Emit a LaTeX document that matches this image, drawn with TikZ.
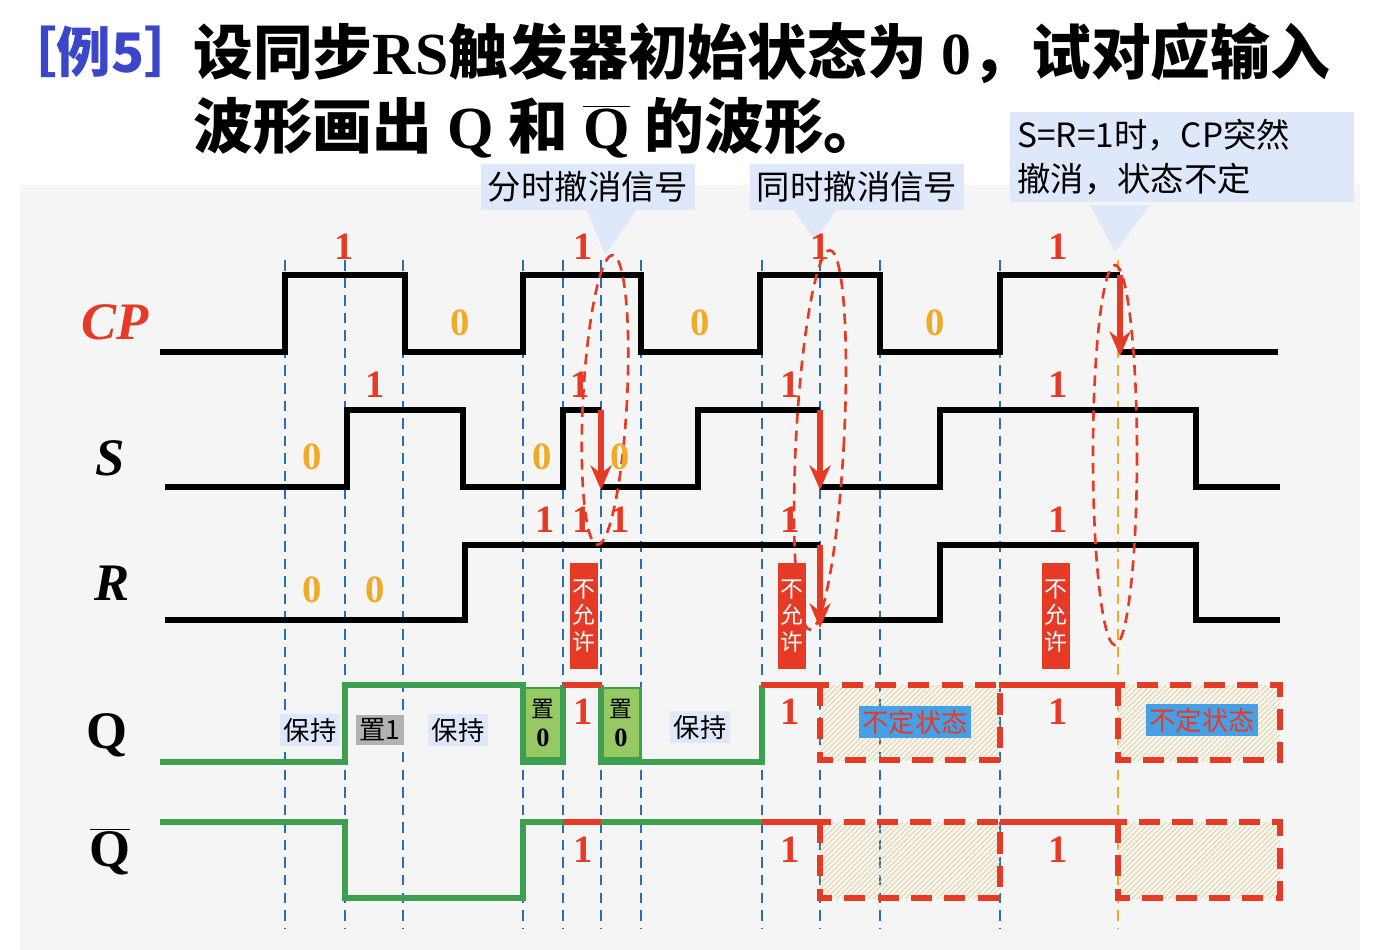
\documentclass[tikz,border=0pt]{standalone}
\usepackage{fontspec}
\setmainfont{Liberation Serif}
\newfontfamily\cjk{Noto Sans CJK SC}
\usetikzlibrary{arrows.meta,patterns}
\definecolor{sigred}{RGB}{228,58,38}
\definecolor{sigorange}{RGB}{240,170,40}
\definecolor{siggreen}{RGB}{60,160,80}
\definecolor{gridblue}{RGB}{40,110,180}
\definecolor{calloutbg}{RGB}{222,232,250}
\definecolor{titleblue}{RGB}{60,70,200}
\definecolor{unknownbg}{RGB}{70,160,230}
\definecolor{setgreen}{RGB}{150,200,100}
\definecolor{hatch}{RGB}{225,205,140}
\tikzset{
  wave/.style={line width=3.5pt},
  grid/.style={gridblue,dash pattern=on 6pt off 4pt,line width=1.6pt},
  one/.style={text=sigred,font=\fontsize{22}{24}\selectfont\bfseries},
  zero/.style={text=sigorange,font=\fontsize{22}{24}\selectfont\bfseries},
  rowlabel/.style={font=\fontsize{30}{32}\selectfont\bfseries},
  callout/.style={fill=calloutbg,font=\cjk\fontsize{19}{25}\selectfont,inner sep=4pt},
  note/.style={fill=calloutbg,font=\cjk\fontsize{15}{18}\selectfont,inner sep=2pt},
  forbid/.style={fill=sigred,text=white,font=\cjk\fontsize{13}{15}\selectfont,align=center,inner sep=1pt,minimum width=16pt,minimum height=60pt},
  setbox/.style={fill=setgreen,draw=siggreen,line width=1.5pt,font=\cjk\fontsize{13}{16}\selectfont,align=center,inner sep=1pt,minimum width=22pt,minimum height=40pt},
  unknown/.style={fill=unknownbg,text=sigred,font=\cjk\fontsize{15}{18}\selectfont,inner sep=2pt},
  undef/.style={sigred,dash pattern=on 12pt off 7pt,line width=3pt,pattern=north east lines,pattern color=hatch},
  ring/.style={sigred,dash pattern=on 6pt off 4pt,line width=1.5pt}
}
\begin{document}
\begin{tikzpicture}[x=0.02cm,y=-0.02cm]
  \useasboundingbox[fill=white] (0,0) rectangle (1390,950);
  \fill[gray!8] (20,185) rectangle (1360,950);

  % title
  \node[anchor=west,text=titleblue,font=\cjk\fontsize{31}{34}\selectfont\bfseries,inner sep=0pt] (tag) at (2,52) {［例5］};
  \node[anchor=north west,font=\fontsize{34}{42}\selectfont\bfseries,align=left,inner sep=0pt] (title) at (193,22)
    {{\cjk 设同步}RS{\cjk 触发器初始状态为} 0{\cjk ，试对应输入}\\{\cjk 波形画出} Q {\cjk 和} $\overline{\mbox{Q}}$ {\cjk 的波形。}};

  % callouts
  \fill[calloutbg] (585,205) -- (640,205) -- (605,255) -- cycle;
  \fill[calloutbg] (790,205) -- (840,205) -- (815,240) -- cycle;
  \fill[calloutbg] (1090,205) -- (1150,205) -- (1115,252) -- cycle;
  \node[callout] (split) at (588,187) {分时撤消信号};
  \node[callout] (same) at (857,187) {同时撤消信号};
  \node[callout,align=left,anchor=north west,text width=6.6cm] (cut) at (1010,112)
    {S=R=1时，CP突然\\撤消，状态不定};

  % time grid
  \foreach \x in {285,345,403,523,563,601,641,762,820,880,1000}
    \draw[grid] (\x,260) -- (\x,928);
  \draw[grid,sigorange] (1118,260) -- (1118,928);

  % row labels
  \node[rowlabel,text=sigred,font=\fontsize{30}{32}\selectfont\bfseries\itshape] (cp) at (115,322) {CP};
  \node[rowlabel,font=\fontsize{30}{32}\selectfont\bfseries\itshape] (s) at (110,458) {S};
  \node[rowlabel,font=\fontsize{30}{32}\selectfont\bfseries\itshape] (r) at (112,583) {R};
  \node[rowlabel] (q) at (107,735) {Q};
  \node[rowlabel] (qb) at (110,852) {$\overline{\mbox{Q}}$};

  % inputs
  \draw[wave] (160,352) -- (285,352) -- (285,275) -- (405,275) -- (405,352) -- (523,352) -- (523,275)
    -- (641,275) -- (641,352) -- (760,352) -- (760,275) -- (880,275) -- (880,352) -- (1000,352)
    -- (1000,275) -- (1120,275);
  \draw[wave] (1120,352) -- (1278,352);
  \draw[wave] (165,487) -- (347,487) -- (347,410) -- (463,410) -- (463,487) -- (563,487) -- (563,410)
    -- (601,410);
  \draw[wave] (601,487) -- (698,487) -- (698,410) -- (820,410);
  \draw[wave] (820,487) -- (940,487) -- (940,410) -- (1196,410) -- (1196,487) -- (1280,487);
  \draw[wave] (165,620) -- (465,620) -- (465,545) -- (820,545);
  \draw[wave] (820,620) -- (940,620) -- (940,545) -- (1196,545) -- (1196,620) -- (1280,620);

  % state notes (set boxes under the output wave)
  \node[setbox] (rst1) at (543,723) {置\\{\rmfamily\bfseries\fontsize{15}{16}\selectfont 0}};
  \node[setbox] (rst2) at (621,723) {置\\{\rmfamily\bfseries\fontsize{15}{16}\selectfont 0}};

  % outputs
  \draw[wave,siggreen] (160,762) -- (345,762) -- (345,685) -- (523,685) -- (523,762) -- (563,762) -- (563,685);
  \draw[wave,siggreen] (601,685) -- (601,762) -- (762,762) -- (762,685);
  \draw[wave,siggreen] (160,822) -- (345,822) -- (345,898) -- (523,898) -- (523,822) -- (563,822);
  \draw[wave,siggreen] (601,822) -- (762,822);
  \foreach \y in {685,822} {
    \draw[wave,sigred] (563,\y) -- (601,\y);
    \draw[wave,sigred] (762,\y) -- (820,\y);
    \draw[wave,sigred] (1000,\y) -- (1118,\y);
  }
  \foreach \a/\b in {820/1000,1118/1280} {
    \draw[undef] (\a,685) rectangle (\b,760);
    \draw[undef] (\a,822) rectangle (\b,898);
  }

  % falling edges
  \begin{scope}[>={Stealth[length=14pt,width=12pt]},every path/.style={sigred,line width=3.5pt}]
    \draw[->] (601,410) -- (601,490);
    \draw[->] (820,410) -- (820,490);
    \draw[->] (820,545) -- (820,628);
    \draw[->] (1120,275) -- (1120,356);
  \end{scope}

  % dashed rings
  \draw[ring,rotate around={-3:(605,400)}] (605,400) ellipse (22 and 145);
  \draw[ring,rotate around={-3:(820,440)}] (820,440) ellipse (24 and 190);
  \draw[ring] (1115,455) ellipse (22 and 190);

  % levels
  \begin{scope}[every node/.style={one}]
    \node (cp1a) at (344,247) {1};
    \node (cp1b) at (583,247) {1};
    \node (cp1c) at (820,247) {1};
    \node (cp1d) at (1058,247) {1};
    \node (s1a) at (375,385) {1};
    \node (s1b) at (580,385) {1};
    \node (s1c) at (790,385) {1};
    \node (s1d) at (1058,385) {1};
    \node (r1a) at (545,520) {1};
    \node (r1b) at (582,520) {1};
    \node (r1c) at (620,520) {1};
    \node (r1d) at (790,520) {1};
    \node (r1e) at (1058,520) {1};
    \node (q1a) at (583,712) {1};
    \node (q1b) at (790,712) {1};
    \node (q1c) at (1058,712) {1};
    \node (qb1a) at (583,850) {1};
    \node (qb1b) at (790,850) {1};
    \node (qb1c) at (1058,850) {1};
  \end{scope}
  \begin{scope}[every node/.style={zero}]
    \node (cp0a) at (460,323) {0};
    \node (cp0b) at (700,323) {0};
    \node (cp0c) at (935,323) {0};
    \node (s0a) at (312,457) {0};
    \node (s0b) at (542,457) {0};
    \node (s0c) at (620,457) {0};
    \node (r0a) at (312,590) {0};
    \node (r0b) at (375,590) {0};
  \end{scope}

  \node[forbid] (nok1) at (584,616) {不\\允\\许};
  \node[forbid] (nok2) at (792,616) {不\\允\\许};
  \node[forbid] (nok3) at (1056,616) {不\\允\\许};
  \node[note] (hold1) at (310,730) {保持};
  \node[note,fill=gray!60] (set1) at (380,730) {置1};
  \node[note] (hold2) at (458,730) {保持};
  \node[note] (hold3) at (700,727) {保持};
  \node[unknown] (unk1) at (915,722) {不定状态};
  \node[unknown] (unk2) at (1202,720) {不定状态};
\end{tikzpicture}
\end{document}
